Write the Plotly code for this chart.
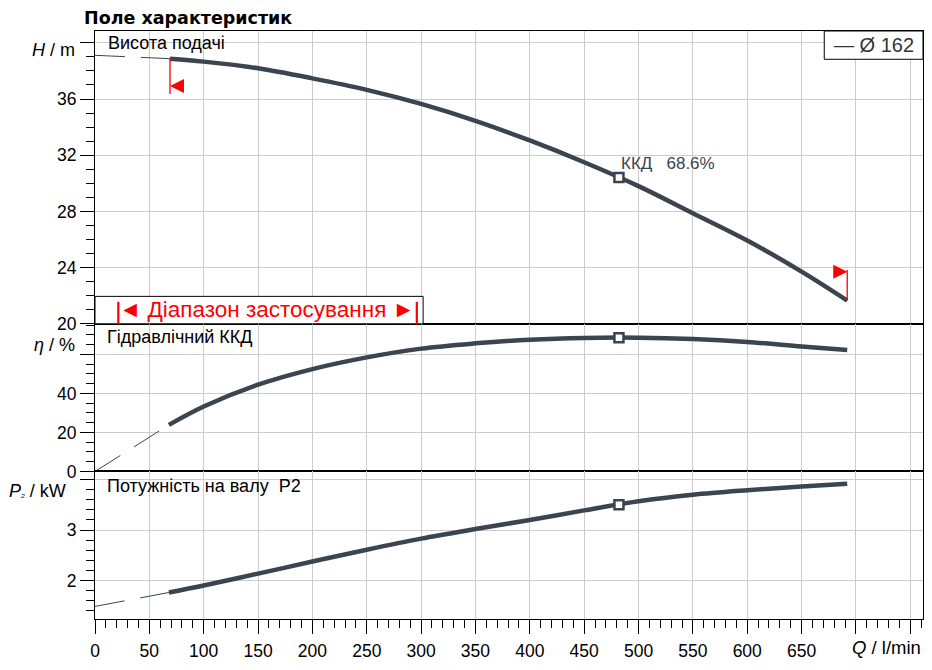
import plotly.graph_objects as go
from plotly.subplots import make_subplots

# ---------------- data ----------------
# Head curve (solid part = operating range)
Q_H = [69, 100, 150, 200, 250, 300, 350, 400, 450, 500, 550, 600, 650, 692]
H = [38.87, 38.66, 38.19, 37.47, 36.65, 35.65, 34.45, 33.05, 31.5, 29.8, 27.87, 25.93, 23.72, 21.66]
Q_H_ext = [0, 69]
H_ext = [39.11, 38.87]

# Hydraulic efficiency
Q_eta = [68, 100, 150, 200, 250, 300, 350, 400, 450, 500, 550, 600, 650, 692]
eta = [23.9, 33.3, 44.5, 52.5, 58.5, 63.0, 65.7, 67.6, 68.5, 68.6, 67.9, 66.4, 64.1, 62.3]
Q_eta_ext = [0, 68]
eta_ext = [0.0, 23.9]

# Shaft power P2
Q_P = [68, 100, 150, 200, 250, 300, 350, 400, 450, 500, 550, 600, 650, 692]
P2 = [1.76, 1.90, 2.135, 2.375, 2.61, 2.83, 3.02, 3.20, 3.39, 3.57, 3.70, 3.79, 3.865, 3.92]
Q_P_ext = [0, 68]
P2_ext = [1.484, 1.76]

# Best efficiency point
bep_Q = [482]
bep_H = [30.42]
bep_eta = [68.6]
bep_P2 = [3.50]
bep_label = "ККД   68.6%"

# Operating range flags
range_Q = [69, 692]
range_flag_H_from = [38.87, 21.66]
range_flag_H_to = [36.36, 23.84]
range_flag_tip_H = [36.93, 23.7]

x_ticks = [0, 50, 100, 150, 200, 250, 300, 350, 400, 450, 500, 550, 600, 650, 700, 750]
x_ticktext = ["0", "50", "100", "150", "200", "250", "300", "350", "400", "450",
              "500", "550", "600", "650", " ", " "]
H_ticks = [20, 24, 28, 32, 36, 40]
H_ticktext = ["20", "24", "28", "32", "36", " "]
eta_ticks = [0, 20, 40, 60]
eta_ticktext = ["0", "20", "40", " "]
P_ticks = [2, 3, 4]
P_ticktext = ["2", "3", " "]

# ---------------- layout helpers ----------------
OFF = 8                      # page body margin of the browser
W, HGT = 916, 654            # figure size (page 8..924, 8..662)
L = 95 - OFF
T = 31 - OFF
R = W - (922.7 - OFF)
B = HGT - (619.3 - OFF)
PW = W - L - R
PH = HGT - T - B


def pxx(x):
    """page x pixel -> paper fraction"""
    return (x - OFF - L) / PW


def pxy(y):
    """page y pixel -> paper fraction"""
    return (HGT - B - (y - OFF)) / PH


FONT = "Liberation Sans, Arial, sans-serif"
CURVE = "#3b444f"
GRID = "#cccccc"
TICKFONT = dict(family=FONT, size=17.5, color="black")

d_bot = [0, pxy(471.7)]
d_mid = [pxy(471.7), pxy(324)]
d_top = [pxy(324), 1]

fig = make_subplots(rows=3, cols=1, shared_xaxes=True, vertical_spacing=0)

dash = "30px,16px"
# Head
fig.add_trace(go.Scatter(x=Q_H_ext, y=H_ext, mode="lines",
                         line=dict(color=CURVE, width=1, dash=dash)), row=1, col=1)
fig.add_trace(go.Scatter(x=Q_H, y=H, mode="lines", line_shape="spline",
                         line=dict(color=CURVE, width=4.5)), row=1, col=1)
# Efficiency
fig.add_trace(go.Scatter(x=Q_eta_ext, y=eta_ext, mode="lines",
                         line=dict(color=CURVE, width=1, dash=dash)), row=2, col=1)
fig.add_trace(go.Scatter(x=Q_eta, y=eta, mode="lines", line_shape="spline",
                         line=dict(color=CURVE, width=4.5)), row=2, col=1)
# Power
fig.add_trace(go.Scatter(x=Q_P_ext, y=P2_ext, mode="lines",
                         line=dict(color=CURVE, width=1, dash=dash)), row=3, col=1)
fig.add_trace(go.Scatter(x=Q_P, y=P2, mode="lines", line_shape="spline",
                         line=dict(color=CURVE, width=4.5)), row=3, col=1)

# BEP markers
bep_marker = dict(symbol="square", size=9, color="white", line=dict(color=CURVE, width=2.5))
fig.add_trace(go.Scatter(x=bep_Q, y=bep_H, mode="markers", marker=bep_marker), row=1, col=1)
fig.add_trace(go.Scatter(x=bep_Q, y=bep_eta, mode="markers", marker=bep_marker), row=2, col=1)
fig.add_trace(go.Scatter(x=bep_Q, y=bep_P2, mode="markers", marker=bep_marker), row=3, col=1)

# Range flags (vertical red lines)
for q, h0, h1 in zip(range_Q, range_flag_H_from, range_flag_H_to):
    fig.add_trace(go.Scatter(x=[q, q], y=[h0, h1], mode="lines",
                             line=dict(color="red", width=1.3)), row=1, col=1)

shapes = []
# red triangles, anchored at data, sized in pixels
shapes.append(dict(type="path", xref="x", yref="y", xsizemode="pixel", ysizemode="pixel",
                   xanchor=range_Q[0], yanchor=range_flag_tip_H[0],
                   path="M0,0 L14,7 L14,-7 Z", fillcolor="red", line=dict(width=0)))
shapes.append(dict(type="path", xref="x", yref="y", xsizemode="pixel", ysizemode="pixel",
                   xanchor=range_Q[1], yanchor=range_flag_tip_H[1],
                   path="M0,0 L-14,7 L-14,-7 Z", fillcolor="red", line=dict(width=0)))

# operating range box
shapes.append(dict(type="rect", xref="paper", yref="paper",
                   x0=pxx(95), x1=pxx(423), y0=pxy(324), y1=pxy(296.5),
                   fillcolor="white", line=dict(color="black", width=1), layer="above"))
for bx in (118.3, 416.7):
    shapes.append(dict(type="line", xref="paper", yref="paper",
                       x0=pxx(bx), x1=pxx(bx), y0=pxy(302), y1=pxy(324.5),
                       line=dict(color="red", width=2.2), layer="above"))
# legend box
shapes.append(dict(type="rect", xref="paper", yref="paper",
                   x0=pxx(824), x1=1, y0=pxy(59.3), y1=1,
                   fillcolor="white", line=dict(color="black", width=1), layer="above"))

annotations = []


def ann(text, x, y, xanchor="left", size=18, color="black", family=FONT):
    annotations.append(dict(text=text, xref="paper", yref="paper", x=pxx(x), y=pxy(y),
                            xanchor=xanchor, yanchor="middle", showarrow=False,
                            font=dict(family=family, size=size, color=color)))


ann("<b>Поле характеристик</b>", 82, 17.5, size=17.5, family="DejaVu Sans, Verdana, sans-serif")
ann("Висота подачі", 106, 43.5)
ann("Гідравлічний ККД", 105, 337)
ann("Потужність на валу  P2", 105, 486)
ann("<i>H</i> / m", 77, 50.5, xanchor="right")
ann("<i>η</i> / %", 77, 345.5, xanchor="right")
ann("<i>P</i><span style='font-size:10px'><i>₂</i></span> / kW", 68, 491, xanchor="right")
ann("<i>Q</i> / l/min", 923, 648, xanchor="right", size=18.5)
ann("◄ Діапазон застосування ►", 267, 309.5, xanchor="center", size=22.5, color="red")
ann("— Ø 162", 873.5, 45.5, xanchor="center", size=20, color="#333333")
annotations.append(dict(text=bep_label, xref="x", yref="y", x=bep_Q[0], y=bep_H[0],
                        xanchor="left", yanchor="bottom", yshift=2, showarrow=False,
                        font=dict(family=FONT, size=17, color=CURVE)))

axis_common = dict(showline=True, linecolor="black", linewidth=1, mirror=True,
                   showgrid=True, gridcolor=GRID, gridwidth=1, zeroline=False)

fig.update_layout(
    width=W, height=HGT,
    margin=dict(l=L, r=R, t=T, b=B, autoexpand=False),
    paper_bgcolor="white", plot_bgcolor="white",
    showlegend=False,
    font=dict(family=FONT, size=17, color="black"),
    shapes=shapes, annotations=annotations,
)

xaxis_common = dict(axis_common, range=[0, 761.7], tickmode="array", tickvals=x_ticks)
fig.update_xaxes(**xaxis_common, ticks="", showticklabels=False, row=1, col=1)
fig.update_xaxes(**xaxis_common, ticks="", showticklabels=False, row=2, col=1)
fig.update_xaxes(**xaxis_common, ticktext=x_ticktext, ticks="outside", ticklen=14,
                 tickcolor="black", tickwidth=1, ticklabelstandoff=2, tickfont=TICKFONT,
                 minor=dict(dtick=10, tick0=0, ticks="outside", ticklen=8, tickcolor="black",
                            tickwidth=1, showgrid=False),
                 row=3, col=1)

yminor = dict(ticks="outside", ticklen=8, tickcolor="black", tickwidth=1, showgrid=False)
fig.update_yaxes(**axis_common, domain=d_top, range=[20, 40.84], tickmode="array",
                 tickvals=H_ticks, ticktext=H_ticktext, ticks="outside", ticklen=14,
                 tickcolor="black", tickfont=TICKFONT,
                 minor=dict(yminor, dtick=1, tick0=20), row=1, col=1)
fig.update_yaxes(**axis_common, domain=d_mid, range=[0, 75.7], tickmode="array",
                 tickvals=eta_ticks, ticktext=eta_ticktext, ticks="outside", ticklen=14,
                 tickcolor="black", tickfont=TICKFONT,
                 minor=dict(yminor, dtick=5, tick0=0), row=2, col=1)
fig.update_yaxes(**axis_common, domain=d_bot, range=[1.234, 4.163], tickmode="array",
                 tickvals=P_ticks, ticktext=P_ticktext, ticks="outside", ticklen=14,
                 tickcolor="black", tickfont=TICKFONT,
                 minor=dict(yminor, dtick=0.2, tick0=0), row=3, col=1)

fig.write_html("out.html")
